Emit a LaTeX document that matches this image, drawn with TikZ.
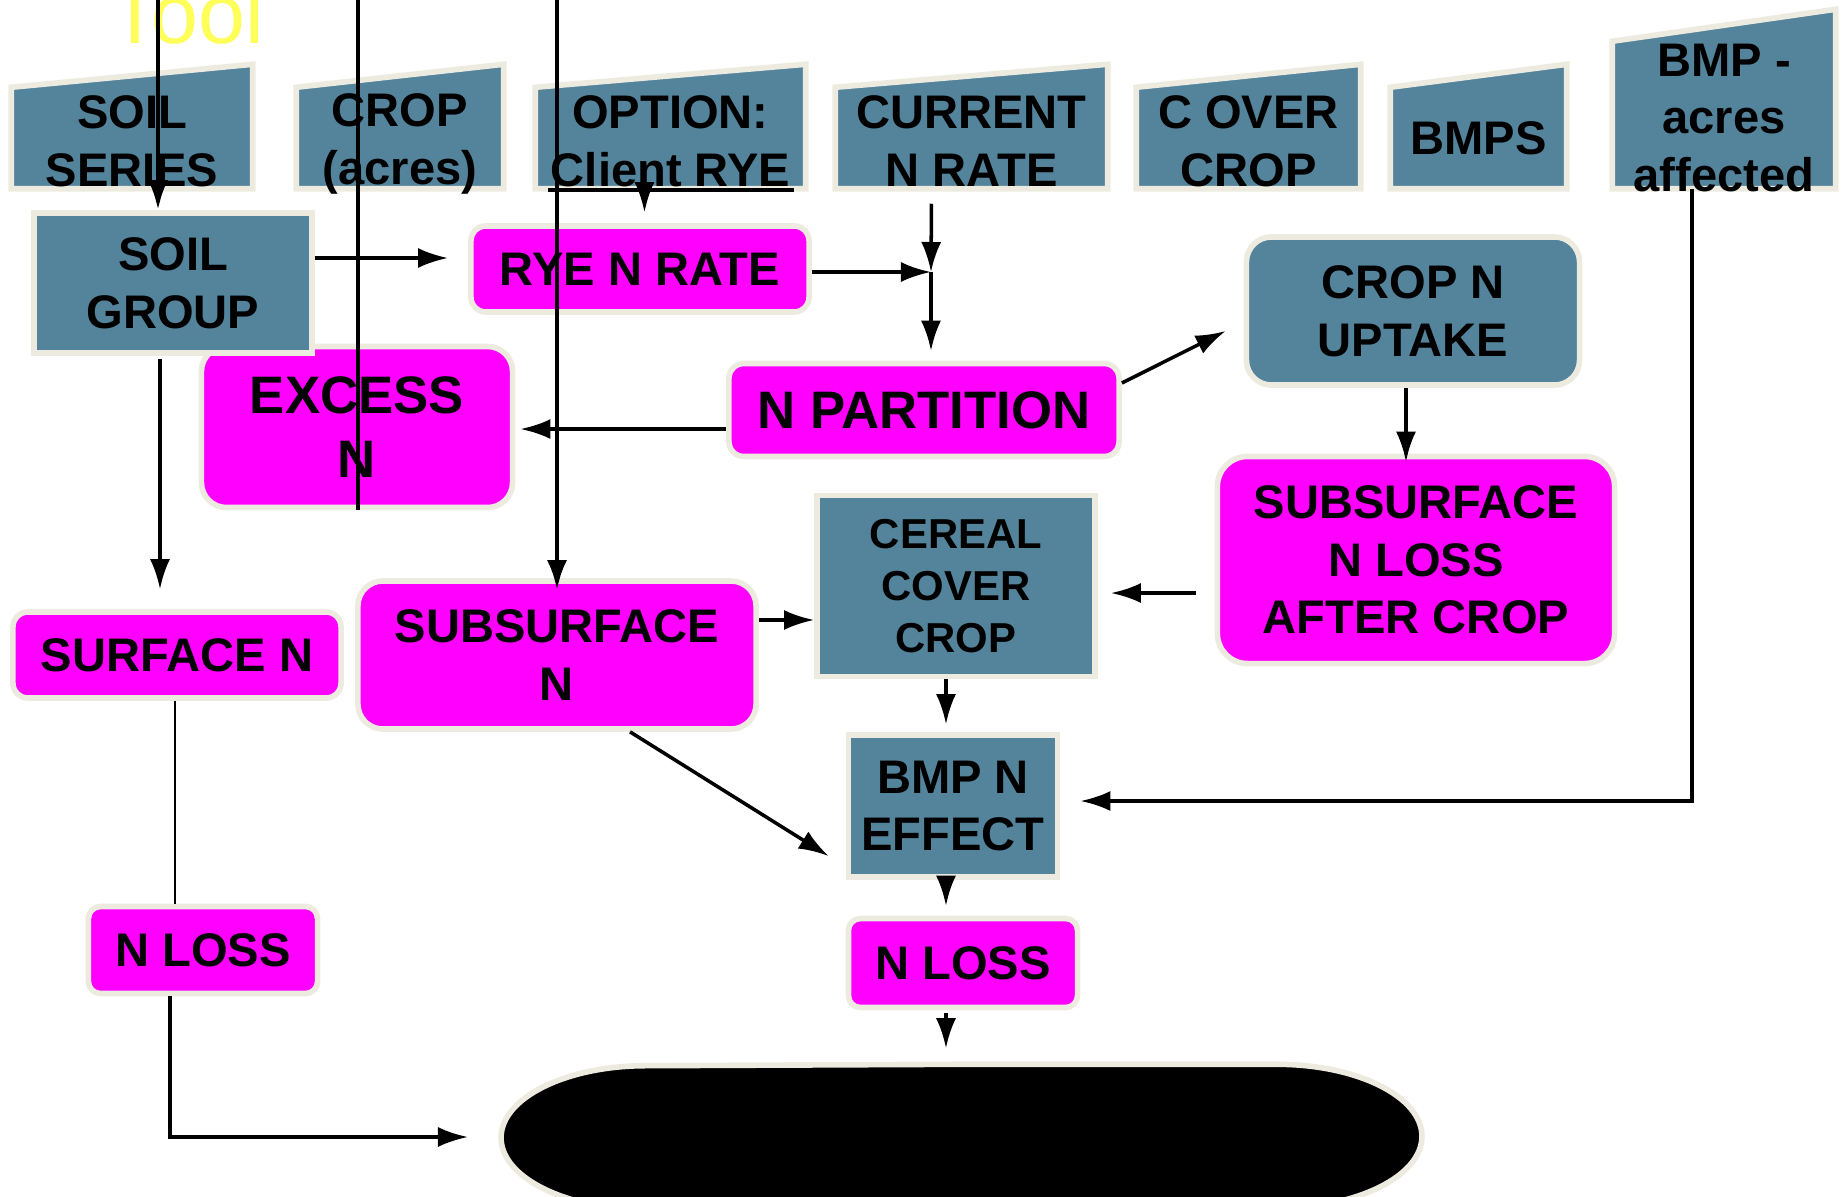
\documentclass[tikz,border=0pt]{standalone}
\usepackage{fontspec}
\setmainfont{Liberation Sans}
\usetikzlibrary{arrows.meta,backgrounds}

\definecolor{steel}{RGB}{83,132,156}
\definecolor{pink}{RGB}{255,0,255}
\definecolor{cream}{RGB}{237,235,224}
\definecolor{tooly}{RGB}{255,255,90}

\tikzset{
  txt/.style={align=center, text=black, inner sep=0pt,
    font=\fontsize{13.4}{16.4}\selectfont\bfseries},
  bigtxt/.style={font=\fontsize{15}{18.2}\selectfont\bfseries},
  smalltxt/.style={font=\fontsize{11.9}{14.9}\selectfont\bfseries},
  bluebox/.style={txt, fill=steel, draw=cream, line width=1.6pt},
  pinkbox/.style={txt, fill=pink, draw=cream, line width=1.6pt, rounded corners=1.5mm},
  inrect/.style={inner sep=0pt},
  intxt/.style={txt, yshift=-0.3mm},
  inshape/.style={fill=steel, draw=cream, line width=1.6pt},
  arr/.style={-{Latex[length=3mm,width=2mm]}, line width=1pt},
  plainln/.style={line width=1pt},
}

\begin{document}
\begin{tikzpicture}[x=0.01cm, y=-0.01cm]
\useasboundingbox (0,0) rectangle (1841,1196);

\node[text=tooly, font=\fontsize{24}{24}\selectfont, anchor=base west, inner sep=0pt] (tool) at (109,43) {Tool};

% inputs along the top
\node[inrect, minimum width=2.40cm, minimum height=1cm, label={[intxt]center:{SOIL\\SERIES}}] (soilser) at (132,138) {};
\node[inrect, minimum width=2.06cm, minimum height=1cm, label={[intxt, yshift=-0.3mm]center:{CROP\\(acres)}}] (crop) at (400,138) {};
\node[inrect, minimum width=2.69cm, minimum height=1cm, label={[intxt]center:{OPTION:\\Client RYE}}] (option) at (670.5,138) {};
\node[inrect, minimum width=2.71cm, minimum height=1cm, label={[intxt]center:{CURRENT\\N RATE}}] (curr) at (971.5,138) {};
\node[inrect, minimum width=2.23cm, minimum height=1cm, label={[intxt]center:{C OVER\\CROP}}] (cover) at (1248.5,138) {};
\node[inrect, minimum width=1.75cm, minimum height=1cm, label={[txt]center:{BMPS}}] (bmps) at (1478.5,138) {};
\node[inrect, minimum width=2.22cm, minimum height=1.46cm, label={[intxt]center:{BMP -\\acres\\affected}}] (bmpac) at (1724,115) {};

\begin{scope}[on background layer]
\foreach \n in {soilser,crop,option,curr,cover,bmps}
  \path[inshape] (\n.south west) -- (\n.north west) -- ([yshift=2.3mm]\n.north east) -- (\n.south east) -- cycle;
\path[inshape] (bmpac.south west) -- (bmpac.north west) -- ([yshift=3.2mm]bmpac.north east) -- (bmpac.south east) -- cycle;
\end{scope}

%-------------------------------------
\node[pinkbox, bigtxt, rounded corners=2.5mm, minimum width=3.11cm, minimum height=1.61cm] (excess) at (357,427) {EXCESS\\N};
\node[bluebox, minimum width=2.78cm, minimum height=1.40cm] (soilgrp) at (173,283) {SOIL\\GROUP};
\node[pinkbox, minimum width=3.38cm, minimum height=0.86cm] (ryerate) at (640,269) {RYE N RATE};
\node[bluebox, rounded corners=2.5mm, minimum width=3.33cm, minimum height=1.48cm] (cropupt) at (1413,311) {CROP N\\UPTAKE};
\node[pinkbox, bigtxt, minimum width=3.90cm, minimum height=0.93cm] (npart) at (924,410) {N PARTITION};
\node[pinkbox, rounded corners=3mm, minimum width=3.97cm, minimum height=2.07cm] (subloss) at (1416,560) {SUBSURFACE\\N LOSS\\AFTER CROP};
\node[bluebox, smalltxt, minimum width=2.78cm, minimum height=1.81cm] (cereal) at (956,586) {CEREAL\\COVER\\CROP};
\node[pinkbox, minimum width=3.28cm, minimum height=0.86cm] (surfn) at (177,655) {SURFACE N};
\node[pinkbox, rounded corners=2.5mm, minimum width=3.98cm, minimum height=1.48cm] (subn) at (557,655) {SUBSURFACE\\N};
\node[bluebox, minimum width=2.09cm, minimum height=1.42cm] (bmpeff) at (953,806) {BMP N\\EFFECT};
\node[pinkbox, rounded corners=1.2mm, minimum width=2.29cm, minimum height=0.89cm] (nloss2) at (963,963) {N LOSS};
\node[pinkbox, rounded corners=1.2mm, minimum width=2.29cm, minimum height=0.87cm] (nloss1) at (203,950) {N LOSS};
\node[inrect, minimum width=9.19cm, minimum height=1.44cm] (blob) at (961.5,1137) {};
\path[fill=black, draw=cream, line width=1.6pt] (blob.north) -- ([xshift=-14.5mm]blob.north east)
  arc[start angle=90, end angle=-90, x radius=14.5mm, y radius=7.2mm] -- ([xshift=14.5mm]blob.south west)
  arc[start angle=270, end angle=90, x radius=14.5mm, y radius=7.2mm] -- cycle;

%-------------------------------------
\coordinate (j) at (931,272);
\draw[plainln] (548,190) -- (794,190);
\draw[arr, shorten <=0.4mm, shorten >=1.1mm] ([xshift=-2.6mm]option.south) -- ([xshift=-2.6mm]option.south |- ryerate.north);
\draw[arr, shorten >=2mm] ([yshift=2.5mm]soilgrp.east) -- ([yshift=2.5mm]soilgrp.east -| ryerate.west);
\draw[arr] (ryerate.east |- j) -- (j);
\draw[arr] ([xshift=-4mm,yshift=-1.5mm]curr.south) -- (j);
\draw[arr, shorten >=1mm] (j) -- (j |- npart.north);
\draw[arr, shorten >=0.5mm] ([yshift=-1.9mm]npart.west) -- ([yshift=-1.9mm]npart.west -| excess.east);
\draw[arr] ([yshift=2.7mm]npart.east) -- ([xshift=-1.8mm,yshift=-2mm]cropupt.west);
\draw[arr, shorten >=-0.8mm] ([xshift=-0.7mm]cropupt.south) -- ([xshift=-0.7mm]cropupt.south |- subloss.north);
\draw[arr, shorten <=1.9mm, shorten >=1.3mm] ([yshift=-3.3mm]subloss.west) -- ([yshift=-3.3mm]subloss.west -| cereal.east);
\draw[arr, shorten <=0.3mm, shorten >=2mm] ([xshift=-1.3mm]soilgrp.south) -- ([xshift=-1.3mm]soilgrp.south |- surfn.north);
\draw[arr] ([yshift=3.5mm]subn.east) -- ([yshift=3.5mm]subn.east -| cereal.west);
\draw[arr, shorten >=0.8mm] ([xshift=-1mm]cereal.south) -- ([xshift=-1mm]cereal.south |- bmpeff.north);
\draw[arr] ([xshift=7.3mm]subn.south) -- ([xshift=-1.7mm,yshift=-5mm]bmpeff.west);
\draw[arr, shorten >=2mm] ([xshift=-3.2mm]bmpac.south) |- ([yshift=0.5mm]bmpeff.east);
\draw[arr, shorten >=1mm] ([xshift=-0.7mm]bmpeff.south) -- ([xshift=-0.7mm]bmpeff.south |- nloss2.north);
\draw[arr, shorten <=0.3mm, shorten >=1.6mm] ([xshift=-1.7mm]nloss2.south) -- ([xshift=-1.7mm]nloss2.south |- blob.north);
\draw[line width=0.7pt] ([xshift=-0.2mm]surfn.south) -- ([xshift=-0.2mm]surfn.south |- nloss1.north);
\draw[arr, shorten >=3.3mm] ([xshift=-3.3mm]nloss1.south) |- (blob.west);

% lines coming in from above
\coordinate (top1) at (158,-5);
\coordinate (top2) at (358,-5);
\coordinate (top3) at (557,-5);
\draw[arr, line width=1.3pt] (top1) -- (top1 |- soilgrp.north);
\draw[line width=1.3pt] (top2) -- (top2 |- excess.south);
\draw[arr, line width=1.3pt, shorten >=-1.2mm] (top3) -- (top3 |- subn.north);
\end{tikzpicture}
\end{document}
